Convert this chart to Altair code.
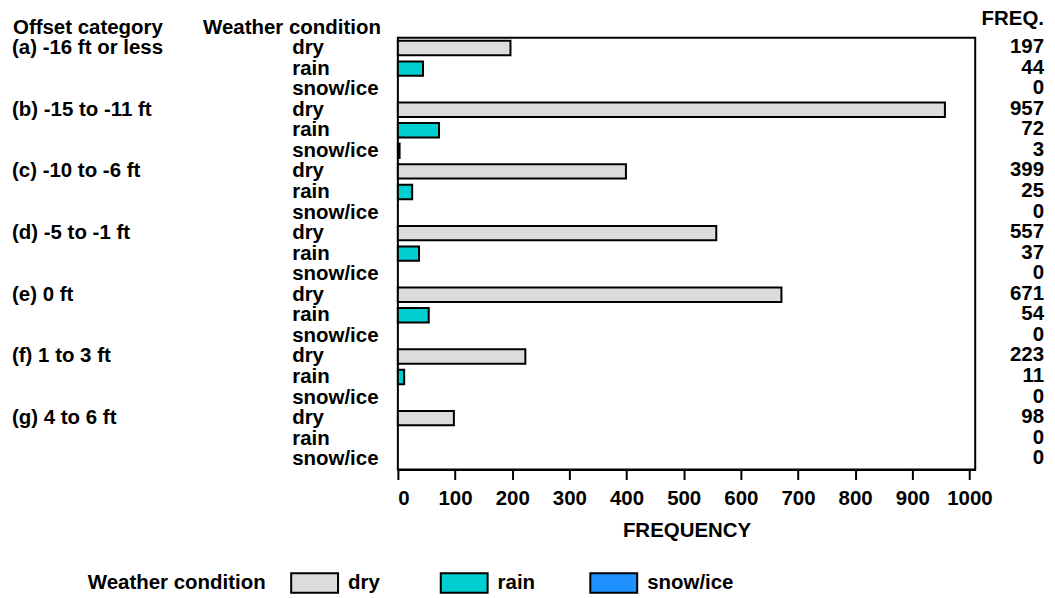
import altair as alt
import pandas as pd

categories = ["(a) -16 ft or less", "(b) -15 to -11 ft", "(c) -10 to -6 ft",
              "(d) -5 to -1 ft", "(e) 0 ft", "(f) 1 to 3 ft", "(g) 4 to 6 ft"]
conditions = ["dry", "rain", "snow/ice"]
dry_freq = [197, 957, 399, 557, 671, 223, 98]
rain_freq = [44, 72, 25, 37, 54, 11, 0]
snow_freq = [0, 3, 0, 0, 0, 0, 0]
colors = ["#DCDCDC", "#00CED1", "#1E90FF"]
x_ticks = [0, 100, 200, 300, 400, 500, 600, 700, 800, 900, 1000]

rows = []
for i, cat in enumerate(categories):
    for cond, vals in zip(conditions, [dry_freq, rain_freq, snow_freq]):
        rows.append({"cat": cat, "cond": cond, "value": vals[i],
                     "row": f"{i:02d}|{cond}"})
df = pd.DataFrame(rows)
row_order = list(df["row"])

FONT = "Liberation Sans"
FS = 20.5

yenc = alt.Y("row:N", sort=row_order, axis=None,
             scale=alt.Scale(domain=row_order, paddingInner=0.3, paddingOuter=0.15))

base = alt.Chart(df)

bars = base.transform_filter("datum.value > 0").mark_bar(
    stroke="black", strokeWidth=2
).encode(
    x=alt.X("value:Q", scale=alt.Scale(domain=[0, 1010], nice=False),
            axis=alt.Axis(values=x_ticks, format="d", tickSize=10, tickWidth=2,
                          tickColor="black", domainColor="black", domainWidth=2,
                          grid=False, labelFont=FONT, labelFontSize=FS,
                          labelFontWeight="bold", labelColor="black", labelPadding=9,
                          title="FREQUENCY", titleFont=FONT, titleFontSize=FS,
                          titleFontWeight="bold", titleColor="black", titlePadding=12)),
    y=yenc,
    color=alt.Color("cond:N", scale=alt.Scale(domain=conditions, range=colors),
                    legend=alt.Legend(
                        title=None, orient="none",
                        legendX=-108, legendY=522, direction="horizontal",
                        labelFont=FONT, labelFontSize=FS, labelFontWeight="bold",
                        labelColor="black", labelOffset=9,
                        symbolType="M-1,-0.42L1,-0.42L1,0.42L-1,0.42Z",
                        symbolSize=2209, symbolStrokeColor="black",
                        symbolStrokeWidth=2, symbolOpacity=1,
                        gridAlign="all", columnPadding=2)),
)

cond_text = base.mark_text(font=FONT, fontSize=FS, fontWeight="bold", align="left",
                           baseline="middle", color="black").encode(
    x=alt.value(-106), y=yenc, text="cond:N")

cat_text = base.transform_filter("datum.cond == 'dry'").mark_text(
    font=FONT, fontSize=FS, fontWeight="bold", align="left",
    baseline="middle", color="black").encode(
    x=alt.value(-387), y=yenc, text="cat:N")

freq_text = base.mark_text(font=FONT, fontSize=FS, fontWeight="bold", align="right",
                           baseline="middle", color="black", dy=-1).encode(
    x=alt.value(648), y=yenc, text="value:Q")

def header(label, x, y, align):
    return alt.Chart(pd.DataFrame({"t": [label]})).mark_text(
        font=FONT, fontSize=FS, fontWeight="bold", align=align,
        baseline="middle", color="black").encode(
        x=alt.value(x), y=alt.value(y), text="t:N")

h1 = header("Offset category", -386, -10, "left")
h2 = header("Weather condition", -17, -10, "right")
h3 = header("FREQ.", 648, -19, "right")
h4 = header("Weather condition", -311, 547, "left")

chart = alt.layer(bars, cond_text, cat_text, freq_text, h1, h2, h3, h4).properties(
    width=579, height=433,
    autosize=alt.AutoSizeParams(type="none"),
    padding={"left": 391, "top": 29, "right": 72, "bottom": 124},
).configure_view(stroke="black", strokeWidth=2)

chart.save("out.html", embed_options={"renderer": "svg", "actions": False})
